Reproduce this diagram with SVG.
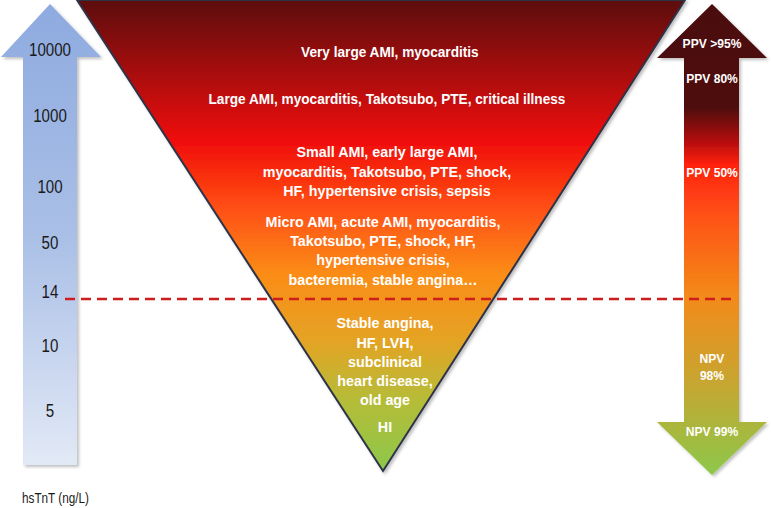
<svg xmlns="http://www.w3.org/2000/svg" width="771" height="508" viewBox="0 0 771 508">
<defs>
<linearGradient id="gBlue" x1="0" y1="0" x2="0" y2="1">
<stop offset="0" stop-color="#8eaadf"/>
<stop offset="0.5" stop-color="#a9bfe6"/>
<stop offset="1" stop-color="#e2e9f6"/>
</linearGradient>
<linearGradient id="gTri" gradientUnits="userSpaceOnUse" x1="0" y1="0" x2="0" y2="471">
<stop offset="0" stop-color="#5c0a0c"/>
<stop offset="0.13" stop-color="#9c0c0e"/>
<stop offset="0.3" stop-color="#f00d0d"/>
<stop offset="0.43" stop-color="#ff4a12"/>
<stop offset="0.58" stop-color="#fb8c17"/>
<stop offset="0.72" stop-color="#e5a324"/>
<stop offset="0.85" stop-color="#b5bc38"/>
<stop offset="1" stop-color="#8cc84a"/>
</linearGradient>
<linearGradient id="gRight" gradientUnits="userSpaceOnUse" x1="0" y1="4" x2="0" y2="475">
<stop offset="0" stop-color="#4a080a"/>
<stop offset="0.22" stop-color="#4e0a0b"/>
<stop offset="0.3" stop-color="#c0100e"/>
<stop offset="0.34" stop-color="#ff2010"/>
<stop offset="0.45" stop-color="#ff5214"/>
<stop offset="0.62" stop-color="#f38a1a"/>
<stop offset="0.8" stop-color="#c8a530"/>
<stop offset="1" stop-color="#8cc84a"/>
</linearGradient>
<filter id="sh" x="-10%" y="-10%" width="130%" height="130%">
<feDropShadow dx="2" dy="2" stdDeviation="1.5" flood-color="#000" flood-opacity="0.25"/>
</filter>
</defs>
<style>
.w{fill:#ffffff;font-family:"Liberation Sans",Arial,sans-serif;font-weight:bold;font-size:14px;text-anchor:middle}
.w2{fill:#ffffff;font-family:"Liberation Sans",Arial,sans-serif;font-weight:bold;font-size:14.3px;text-anchor:middle}
.r{fill:#ffffff;font-family:"Liberation Sans",Arial,sans-serif;font-weight:bold;font-size:13px;text-anchor:middle}
.k{fill:#1a1a1a;font-family:"Liberation Sans",Arial,sans-serif;font-size:18px;text-anchor:middle}
</style>
<g id="left-arrow">
<polygon points="50,4 101,57 77,57 77,465 23,465 23,57 1,57" fill="url(#gBlue)" filter="url(#sh)"/>
<g transform="translate(50,0) scale(0.84,1)">
<text class="k" x="0" y="56">10000</text>
<text class="k" x="0" y="122">1000</text>
<text class="k" x="0" y="193">100</text>
<text class="k" x="0" y="249">50</text>
<text class="k" x="0" y="298">14</text>
<text class="k" x="0" y="352">10</text>
<text class="k" x="0" y="417">5</text>
</g>
</g>
<g id="triangle">
<polygon points="77,0 685,0 383,471" fill="url(#gTri)" stroke="#2e3347" stroke-width="2" filter="url(#sh)"/>
<g transform="translate(386,0) scale(0.975,1)">
<text class="w" x="4" y="57">Very large AMI, myocarditis</text>
<text class="w" x="1" y="104">Large AMI, myocarditis, Takotsubo, PTE, critical illness</text>
</g>
<g transform="translate(386,0)">
<text class="w2" x="1" y="157">Small AMI, early large AMI,</text>
<text class="w2" x="1" y="177">myocarditis, Takotsubo, PTE, shock,</text>
<text class="w2" x="1" y="196">HF, hypertensive crisis, sepsis</text>
<text class="w2" x="-3" y="227">Micro AMI, acute AMI, myocarditis,</text>
<text class="w2" x="-3" y="246">Takotsubo, PTE, shock, HF,</text>
<text class="w2" x="-3" y="265">hypertensive crisis,</text>
<text class="w2" x="-3" y="285">bacteremia, stable angina…</text>
<text class="w2" x="-1" y="328">Stable angina,</text>
<text class="w2" x="-1" y="348">HF, LVH,</text>
<text class="w2" x="-1" y="367">subclinical</text>
<text class="w2" x="-1" y="386">heart disease,</text>
<text class="w2" x="-1" y="405">old age</text>
<text class="w2" x="-1" y="432">HI</text>
</g>
</g>
<g id="right-arrow">
<polygon points="712,4 767,58 739,58 739,422 767,422 712,475 657,422 684,422 684,58 657,58" fill="url(#gRight)" filter="url(#sh)"/>
<g transform="translate(712,0) scale(0.93,1)">
<text class="r" x="0" y="48">PPV &gt;95%</text>
<text class="r" x="0" y="83">PPV 80%</text>
<text class="r" x="0" y="177">PPV 50%</text>
<text class="r" x="0" y="363">NPV</text>
<text class="r" x="0" y="380">98%</text>
<text class="r" x="0" y="436">NPV 99%</text>
</g>
</g>
<g id="connectors">
<line x1="65" y1="299" x2="737" y2="299" stroke="#d01c1c" stroke-width="2.5" stroke-dasharray="10,6"/>
</g>
<text transform="translate(22,503) scale(0.84,1)" x="0" y="0" fill="#1a1a1a" font-family="Liberation Sans,Arial,sans-serif" font-size="14">hsTnT (ng/L)</text>
</svg>
